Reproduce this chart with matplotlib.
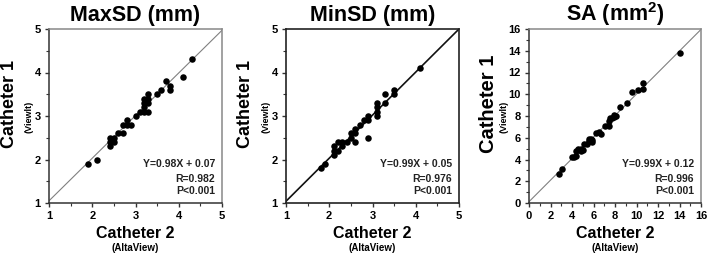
import matplotlib
matplotlib.use("Agg")
import matplotlib.pyplot as plt
from matplotlib.ticker import MultipleLocator
import numpy as np

plt.rcParams['font.family'] = ['Liberation Sans', 'DejaVu Sans']
plt.rcParams['mathtext.fontset'] = 'custom'
plt.rcParams['mathtext.rm'] = 'Liberation Sans:bold'
plt.rcParams['mathtext.bf'] = 'Liberation Sans:bold'

# MaxSD (mm)
maxsd_x = [1.9, 2.1, 2.4, 2.4, 2.4, 2.5, 2.5, 2.6, 2.7, 2.7, 2.8, 2.8, 2.9, 3.0,
           3.1, 3.2, 3.2, 3.2, 3.2, 3.3, 3.3, 3.3, 3.3, 3.5, 3.6, 3.7, 3.8, 3.8, 4.1, 4.3]
maxsd_y = [1.9, 2.0, 2.5, 2.4, 2.3, 2.5, 2.4, 2.6, 2.6, 2.8, 2.9, 2.8, 2.8, 3.0,
           3.1, 3.1, 3.2, 3.3, 3.4, 3.1, 3.3, 3.4, 3.5, 3.5, 3.6, 3.8, 3.7, 3.6, 3.9, 4.3]

# MinSD (mm)
minsd_x = [1.8, 1.9, 2.1, 2.1, 2.1, 2.2, 2.2, 2.3, 2.3, 2.4, 2.5, 2.5, 2.6, 2.6, 2.6,
           2.7, 2.8, 2.9, 2.9, 2.9, 3.1, 3.1, 3.1, 3.1, 3.3, 3.3, 3.5, 3.5, 4.1]
minsd_y = [1.8, 1.9, 2.1, 2.2, 2.3, 2.2, 2.4, 2.3, 2.4, 2.4, 2.5, 2.6, 2.4, 2.6, 2.7,
           2.8, 2.9, 2.9, 3.0, 2.5, 3.0, 3.1, 3.2, 3.3, 3.3, 3.5, 3.5, 3.6, 4.1]

# SA (mm2)
sa_x = [2.8, 3.1, 4.0, 4.2, 4.4, 4.4, 4.6, 4.8, 4.8, 5.0, 5.1, 5.4, 5.6, 5.6, 5.8, 5.9, 5.9,
        6.2, 6.5, 6.7, 7.1, 7.4, 7.4, 7.5, 7.7, 7.9, 7.9, 8.1, 8.5, 9.1, 9.6, 10.1, 10.6, 10.6, 14.0]
sa_y = [2.7, 3.1, 4.2, 4.2, 4.3, 4.8, 5.0, 4.8, 5.0, 4.9, 5.4, 5.4, 5.7, 5.9, 5.9, 5.8, 5.6,
        6.4, 6.5, 6.3, 7.1, 7.1, 7.5, 7.8, 7.8, 7.9, 8.1, 8.0, 8.8, 9.2, 10.2, 10.4, 10.5, 11.0, 13.8]

titles = ["MaxSD (mm)", "MinSD (mm)", r"SA (mm$^{\mathbf{2}}$)"]
slopes = [0.98, 0.99, 0.99]
intercepts = [0.07, 0.05, 0.12]
eq_texts = ["Y=0.98X + 0.07", "Y=0.99X + 0.05", "Y=0.99X + 0.12"]
r_texts = ["R=0.982", "R=0.976", "R=0.996"]
p_texts = ["P<0.001", "P<0.001", "P<0.001"]
limits = [(1, 5), (1, 5), (0, 16)]
major_steps = [1, 1, 2]
minor_steps = [0.5, 0.5, 1]

xs = [maxsd_x, minsd_x, sa_x]
ys = [maxsd_y, minsd_y, sa_y]

fig = plt.figure(figsize=(7.08, 2.59), dpi=100)
W, H = 708, 259
lefts = [49, 286, 529]
widths = [173, 173, 172]
top_px, bot_px = 29, 203
ylab_off = [39, 40, 41]
ylab_size = [13, 13, 14.5]
sub_off = [20, 20, 25]

for i in range(3):
    ax = fig.add_axes([lefts[i] / W, (H - bot_px) / H, widths[i] / W, (bot_px - top_px) / H])
    lo, hi = limits[i]
    ax.set_xlim(lo, hi)
    ax.set_ylim(lo, hi)
    if i == 1:
        line_c, line_w = '#111111', 1.2
        for s in ax.spines.values():
            s.set_color('#222222'); s.set_linewidth(1.2)
    else:
        line_c, line_w = '#808080', 0.8
        ax.spines['left'].set_color('#333333')
        ax.spines['bottom'].set_color('#333333')
        ax.spines['top'].set_color('#888888')
        ax.spines['right'].set_color('#888888')
        for s in ax.spines.values():
            s.set_linewidth(1.1)
    lx = np.array([lo, hi])
    ax.plot(lx, slopes[i] * lx + intercepts[i], color=line_c, lw=line_w, zorder=2)
    ax.scatter(xs[i], ys[i], s=22, color='black', zorder=3, linewidths=0)
    ax.xaxis.set_major_locator(MultipleLocator(major_steps[i]))
    ax.yaxis.set_major_locator(MultipleLocator(major_steps[i]))
    ax.xaxis.set_minor_locator(MultipleLocator(minor_steps[i]))
    ax.yaxis.set_minor_locator(MultipleLocator(minor_steps[i]))
    ax.tick_params(which='major', direction='out', length=3, width=1, color='#333333',
                   labelsize=8, pad=3)
    ax.tick_params(which='minor', direction='out', length=2, width=0.8, color='#333333')
    for lab in ax.get_xticklabels() + ax.get_yticklabels():
        lab.set_fontweight('bold')
    ax.set_title(titles[i], fontsize=15.5, fontweight='bold', pad=6)
    ax.text(0.96, 0.225, eq_texts[i], transform=ax.transAxes, ha='right', va='center',
            fontsize=7.5, fontweight='bold', color='#222222')
    ax.text(0.96, 0.137, r_texts[i], transform=ax.transAxes, ha='right', va='center',
            fontsize=7.5, fontweight='bold', color='#222222')
    ax.text(0.96, 0.069, p_texts[i], transform=ax.transAxes, ha='right', va='center',
            fontsize=7.5, fontweight='bold', color='#222222')
    cx = (lefts[i] + widths[i] / 2) / W
    fig.text(cx, 1 - 233 / H, "Catheter 2", ha='center', va='center', fontsize=11.5,
             fontweight='bold')
    fig.text(cx, 1 - 248 / H, "(AltaView)", ha='center', va='center', fontsize=7,
             fontweight='bold')
    fig.text((lefts[i] - ylab_off[i]) / W, 1 - 104 / H, "Catheter 1", ha='center', va='center',
             rotation=90, fontsize=ylab_size[i], fontweight='bold')
    fig.text((lefts[i] - sub_off[i]) / W, 1 - 117 / H, "(Viewlt)", ha='center',
             va='center', rotation=90, fontsize=6.5, fontweight='bold')

fig.savefig("out.png", dpi=100)
